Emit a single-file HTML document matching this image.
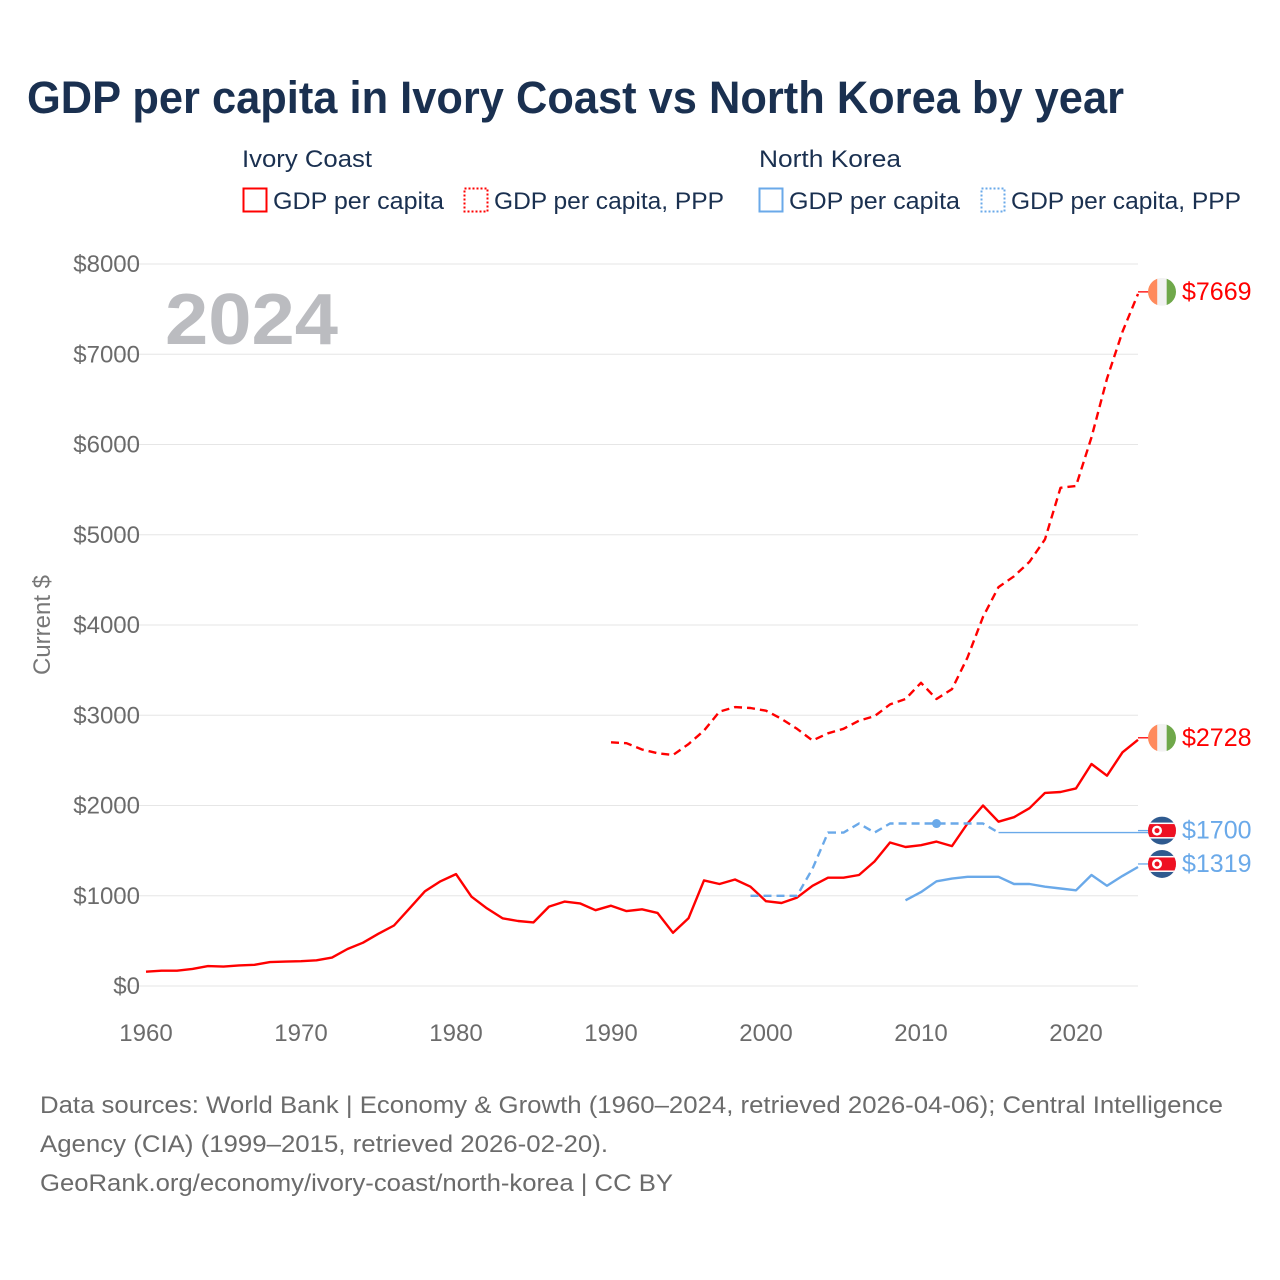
<!DOCTYPE html>
<html><head><meta charset="utf-8"><style>
html,body{margin:0;padding:0;background:#fff;}
svg{display:block;font-family:"Liberation Sans",sans-serif;}
</style></head><body>
<svg id="chart" width="1280" height="1280" viewBox="0 0 1280 1280" xmlns="http://www.w3.org/2000/svg">
<text x="27" y="113" font-size="45" font-weight="bold" fill="#1a3050" textLength="1097" lengthAdjust="spacingAndGlyphs">GDP per capita in Ivory Coast vs North Korea by year</text>
<g font-size="24" fill="#1a3050">
<text x="242" y="167" textLength="130" lengthAdjust="spacingAndGlyphs">Ivory Coast</text>
<rect x="243.5" y="188.5" width="23" height="23" fill="none" stroke="#ff0000" stroke-width="2"/>
<text x="273" y="209" textLength="171" lengthAdjust="spacingAndGlyphs">GDP per capita</text>
<rect x="464.5" y="188.5" width="23" height="23" fill="none" stroke="#ff0000" stroke-width="2" stroke-dasharray="2,2"/>
<text x="494" y="209" textLength="230" lengthAdjust="spacingAndGlyphs">GDP per capita, PPP</text>
<text x="759" y="167" textLength="142" lengthAdjust="spacingAndGlyphs">North Korea</text>
<rect x="759.5" y="188.5" width="23" height="23" fill="none" stroke="#6aa9e9" stroke-width="2"/>
<text x="789" y="209" textLength="171" lengthAdjust="spacingAndGlyphs">GDP per capita</text>
<rect x="981.5" y="188.5" width="23" height="23" fill="none" stroke="#6aa9e9" stroke-width="2" stroke-dasharray="2,2"/>
<text x="1011" y="209" textLength="230" lengthAdjust="spacingAndGlyphs">GDP per capita, PPP</text>
</g>
<g id="grid"></g>
<g id="yticks" font-size="24" fill="#6b6b6b"></g>
<g id="xticks" font-size="24" fill="#6b6b6b"></g>
<text transform="translate(50,625) rotate(-90)" text-anchor="middle" font-size="24" fill="#777">Current $</text>
<text x="165" y="344" font-size="72" font-weight="bold" fill="#bbbcc0" textLength="173" lengthAdjust="spacingAndGlyphs">2024</text>
<g id="series"></g>
<g id="labels" font-size="25"></g>
<g font-size="24" fill="#6b6b6b">
<text x="40" y="1113" textLength="1183" lengthAdjust="spacingAndGlyphs">Data sources: World Bank | Economy &amp; Growth (1960–2024, retrieved 2026-04-06); Central Intelligence</text>
<text x="40" y="1152" textLength="568" lengthAdjust="spacingAndGlyphs">Agency (CIA) (1999–2015, retrieved 2026-02-20).</text>
<text x="40" y="1191" textLength="633" lengthAdjust="spacingAndGlyphs">GeoRank.org/economy/ivory-coast/north-korea | CC BY</text>
</g>
</svg>
<script>
const yTicks = [0,1000,2000,3000,4000,5000,6000,7000,8000];
const xTicks = [1960,1970,1980,1990,2000,2010,2020];
const ivoryStart = 1960;
const ivoryGdp = [158,170,170,190,220,215,228,235,265,270,275,285,315,410,480,580,670,860,1050,1160,1240,990,860,750,720,705,880,935,915,840,890,830,850,810,590,750,1170,1130,1180,1100,940,920,980,1110,1200,1200,1230,1380,1590,1540,1560,1600,1550,1800,2000,1820,1870,1970,2140,2150,2190,2460,2330,2590,2728];
const ivoryPppStart = 1990;
const ivoryPpp = [2700,2690,2620,2580,2560,2680,2830,3040,3090,3080,3050,2960,2850,2720,2800,2850,2940,2990,3120,3180,3360,3180,3290,3640,4090,4420,4540,4700,4950,5520,5540,6080,6730,7250,7669];
const nkStart = 2009;
const nkGdp = [950,1040,1160,1190,1210,1210,1210,1130,1130,1100,1080,1060,1230,1110,1220,1319];
const nkPppStart = 1999;
const nkPpp = [1000,1000,1000,1000,1300,1700,1700,1800,1700,1800,1800,1800,1800,1800,1800,1800,1700];
const nkPppDotYear = 2011;
const lastYear = 2024;

const NS="http://www.w3.org/2000/svg";
const X0=146, X1=1138, Y0=986, Y1=264;
const xs = y => X0 + (y-1960)*(X1-X0)/(lastYear-1960);
const ys = v => Y0 - v*(Y0-Y1)/8000;
function mk(tag, attrs, parent){const e=document.createElementNS(NS,tag);for(const k in attrs)e.setAttribute(k,attrs[k]);parent.appendChild(e);return e;}
const grid=document.getElementById('grid'), yt=document.getElementById('yticks'), xt=document.getElementById('xticks');
yTicks.forEach(v=>{
  const l=mk('line',{x1:X0-30,x2:X1,y1:ys(v),y2:ys(v),stroke:'#e6e6e6','stroke-width':1},grid);
  
  
  const t=mk('text',{x:140,y:ys(v)+8,'text-anchor':'end'},yt);
  t.textContent='$'+v;
  
  
});
xTicks.forEach(y=>{
  const t=mk('text',{x:xs(y),y:1041,'text-anchor':'middle'},xt);
  t.textContent=y;
  
  
});
const S=document.getElementById('series');
function line(start, vals, color, dash, name){
  const pts=vals.map((v,i)=>xs(start+i).toFixed(1)+','+ys(v).toFixed(1)).join(' ');
  const p=mk('polyline',{points:pts,fill:'none',stroke:color,'stroke-width':2.4,'stroke-linejoin':'round'},S);
  if(dash)p.setAttribute('stroke-dasharray',dash);
  
  
}
line(ivoryPppStart, ivoryPpp, '#ff0000', '8,5', 'ivory-coast-ppp-line');
line(ivoryStart, ivoryGdp, '#ff0000', null, 'ivory-coast-gdp-line');
line(nkPppStart, nkPpp, '#6aa9e9', '8,5', 'north-korea-ppp-line');
const nkLast=nkPpp[nkPpp.length-1], nkLastYear=nkPppStart+nkPpp.length-1;
const ext=mk('line',{x1:xs(nkLastYear),x2:1150,y1:ys(nkLast),y2:ys(nkLast),stroke:'#6aa9e9','stroke-width':1.3},S);


const dot=mk('circle',{cx:xs(nkPppDotYear),cy:ys(nkPpp[nkPppDotYear-nkPppStart]),r:4.5,fill:'#6aa9e9'},S);


line(nkStart, nkGdp, '#6aa9e9', null, 'north-korea-gdp-line');

const L=document.getElementById('labels');
function ivFlag(cy){
  const g=mk('g',{},L);
  
  
  const cx=1162,r=14;
  mk('clipPath',{id:'c'+Math.round(cy)},g).appendChild(document.createElementNS(NS,'circle'));
  const cp=g.lastChild.firstChild;cp.setAttribute('cx',cx);cp.setAttribute('cy',cy);cp.setAttribute('r',r);
  const cl='url(#c'+Math.round(cy)+')';
  mk('rect',{x:cx-r,y:cy-r,width:r*2/3,height:2*r,fill:'#ff8a5c','clip-path':cl},g);
  mk('rect',{x:cx-r/3,y:cy-r,width:r*2/3,height:2*r,fill:'#f2f2f2','clip-path':cl},g);
  mk('rect',{x:cx+r/3,y:cy-r,width:r*2/3,height:2*r,fill:'#6fa84a','clip-path':cl},g);
}
function nkFlag(cy){
  const g=mk('g',{},L);
  
  
  const cx=1162,r=14;
  mk('clipPath',{id:'k'+Math.round(cy)},g).appendChild(document.createElementNS(NS,'circle'));
  const cp=g.lastChild.firstChild;cp.setAttribute('cx',cx);cp.setAttribute('cy',cy);cp.setAttribute('r',r);
  const cl='url(#k'+Math.round(cy)+')';
  mk('rect',{x:cx-r,y:cy-r,width:2*r,height:2*r,fill:'#2f5a8f','clip-path':cl},g);
  mk('rect',{x:cx-r,y:cy-8,width:2*r,height:16,fill:'#fff','clip-path':cl},g);
  mk('rect',{x:cx-r,y:cy-6.5,width:2*r,height:13,fill:'#ee1122','clip-path':cl},g);
  mk('circle',{cx:cx-5,cy:cy,r:5,fill:'#fff'},g);
  mk('circle',{cx:cx-5,cy:cy,r:2.5,fill:'#ee1122'},g);
}
function endLabel(val,color,flag,name,dy){
  const cy=ys(val)+(dy||0);
  const c=mk('line',{x1:X1,x2:1150,y1:cy,y2:cy,stroke:color,'stroke-width':1.3},L);
  
  
  flag(cy);
  const t=mk('text',{x:1182,y:cy+8,fill:color},L);
  t.textContent='$'+val;
  
  
}
endLabel(ivoryPpp[ivoryPpp.length-1],'#ff0000',ivFlag,'ivory-ppp-end-label',-2);
endLabel(ivoryGdp[ivoryGdp.length-1],'#ff0000',ivFlag,'ivory-gdp-end-label',-2);
endLabel(nkLast,'#6aa9e9',nkFlag,'nk-ppp-end-label',-2);
endLabel(nkGdp[nkGdp.length-1],'#6aa9e9',nkFlag,'nk-gdp-end-label',-3);
</script>
</body></html>
